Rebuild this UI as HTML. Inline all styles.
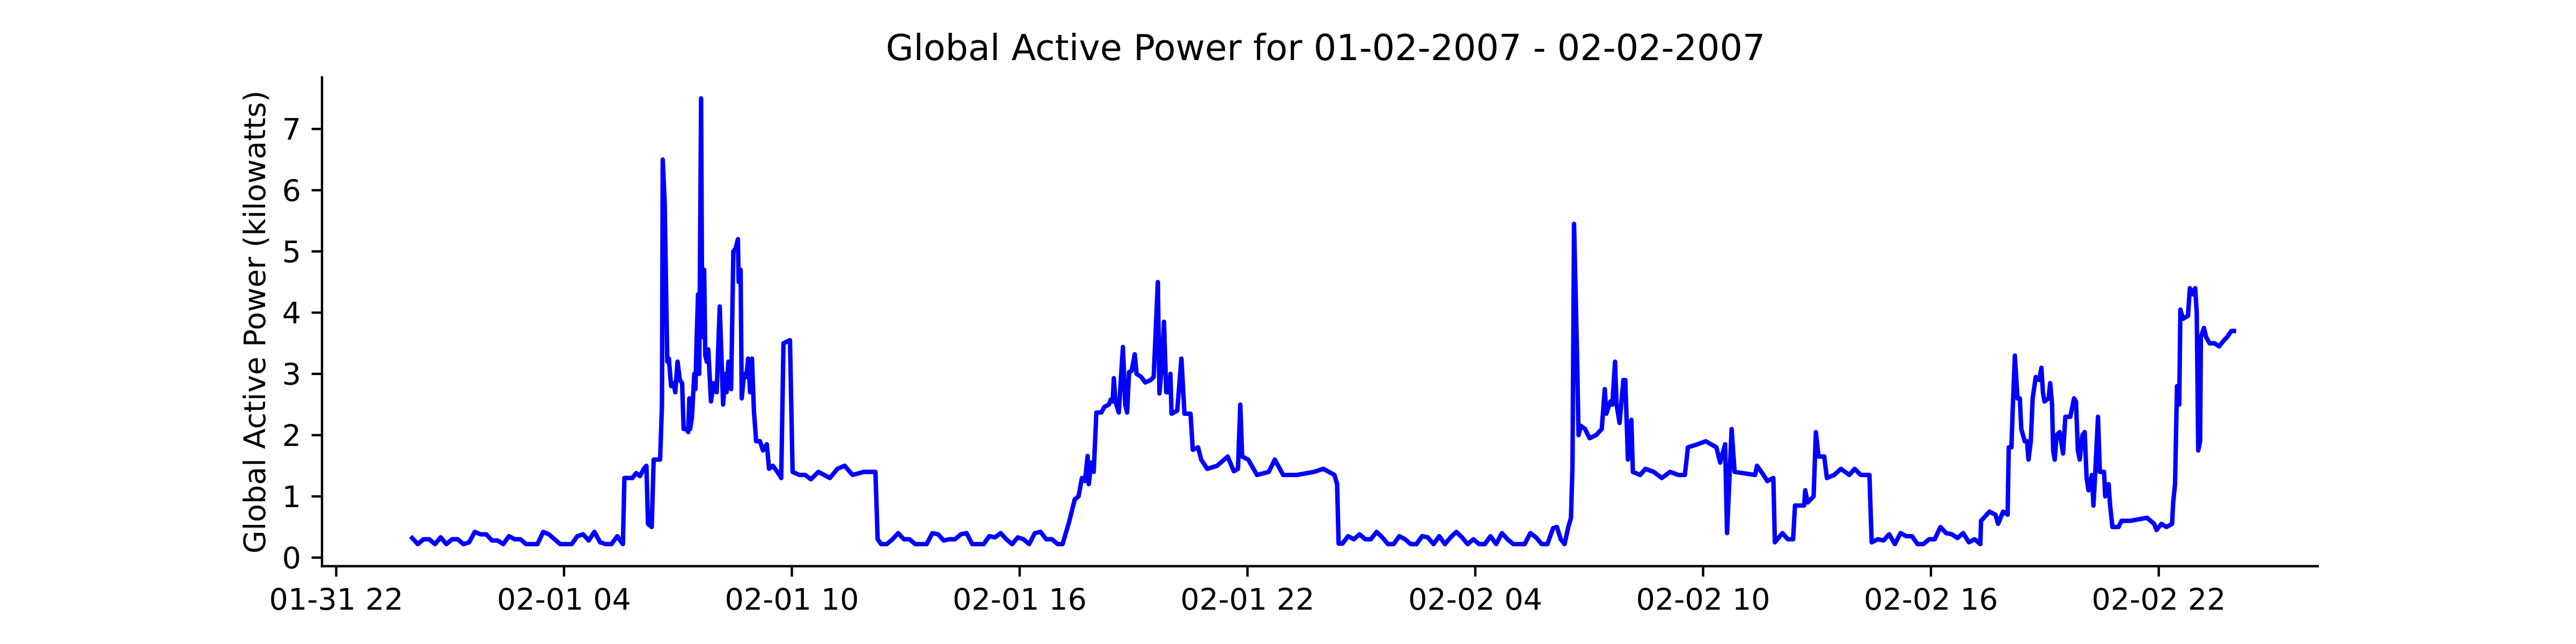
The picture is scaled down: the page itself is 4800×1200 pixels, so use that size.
<!DOCTYPE html>
<html><head><meta charset="utf-8"><style>
html,body{margin:0;padding:0;background:#fff;}
svg{display:block;}
text{font-family:"DejaVu Sans","Liberation Sans",sans-serif;fill:#000;}
</style></head>
<body>
<svg id="chart" width="4800" height="1200" viewBox="0 0 4800 1200" xmlns="http://www.w3.org/2000/svg">
<rect width="4800" height="1200" fill="#fff"/>
<text x="2470" y="112" font-size="66.7" text-anchor="middle">Global Active Power for 01-02-2007 - 02-02-2007</text>
<text transform="translate(494,600) rotate(-90)" font-size="55.6" text-anchor="middle">Global Active Power (kilowatts)</text>
<g id="yticks"></g>
<g id="xticks"></g>
<path id="series" fill="none" stroke="#0000ff" stroke-width="8.3" stroke-linejoin="round" stroke-linecap="square"/>
<line x1="600" y1="142" x2="600" y2="1057.2" stroke="#000" stroke-width="4.4"/>
<line x1="597.8" y1="1055" x2="4321" y2="1055" stroke="#000" stroke-width="4.4"/>
</svg>
<script>
// hours since 02-01-2007 00:00
const times = [0,0.15,0.3,0.45,0.6,0.75,0.9,1.05,1.2,1.35,1.5,1.65,1.8,1.95,2.1,2.25,2.4,2.55,2.7,2.85,3.0,3.15,3.3,3.45,3.6,3.75,3.9,4.05,4.2,4.35,4.5,4.65,4.8,4.95,5.1,5.25,5.4,5.55,
5.59,5.8,5.9,6.0,6.1,6.17,6.21,6.31,6.36,6.53,6.58,6.60,6.65,6.72,6.76,6.82,6.88,6.93,6.99,7.05,7.11,7.15,7.22,7.27,7.3,7.32,7.37,7.43,7.46,7.49,7.53,7.56,7.61,7.64,7.69,7.72,7.76,7.8,7.87,7.94,8.02,8.1,8.19,8.25,8.28,8.33,8.4,8.46,8.52,8.58,8.6,8.65,8.68,8.74,8.8,8.85,8.9,8.95,9.0,9.06,9.16,9.24,9.34,9.40,9.5,9.62,9.72,9.78,9.95,10.02,10.2,10.35,10.5,10.7,11.0,11.2,11.39,11.6,11.9,12.2,12.26,
12.35,12.5,12.65,12.8,12.95,13.1,13.25,13.4,13.55,13.7,13.85,14.0,14.15,14.3,14.45,14.6,14.75,14.9,15.05,15.2,15.35,15.5,15.65,15.8,15.95,16.1,16.25,16.4,16.55,16.7,16.85,17.0,17.13,
17.31,17.45,17.55,17.64,17.72,17.79,17.82,17.88,17.95,18.02,18.15,18.23,18.35,18.40,18.45,18.48,18.52,18.61,18.72,18.78,18.83,18.88,18.95,19.03,19.08,19.2,19.31,19.45,19.53,19.64,19.68,19.74,19.80,19.86,19.94,19.97,20.0,20.15,20.26,20.34,20.5,20.56,20.7,20.78,20.94,21.2,21.48,21.64,21.75,21.81,21.86,22.02,22.25,22.56,22.72,22.94,23.3,23.75,24.0,24.29,24.36,24.40,
24.5,24.65,24.8,24.95,25.1,25.25,25.4,25.55,25.7,25.85,26.0,26.15,26.3,26.45,26.6,26.75,26.9,27.05,27.2,27.35,27.5,27.65,27.8,27.95,28.1,28.25,28.4,28.55,28.7,28.85,29.0,29.15,29.3,29.45,29.6,29.75,29.9,30.05,30.15,30.25,30.35,30.45,30.52,30.56,
30.6,30.68,30.72,30.78,30.89,31.01,31.18,31.33,31.41,31.45,31.56,31.61,31.68,31.72,31.8,31.9,31.95,32.02,32.11,32.15,32.34,32.48,32.7,32.91,33.13,33.35,33.52,33.6,33.85,34.07,34.35,34.45,34.58,34.63,34.75,34.83,35.37,35.42,35.59,35.69,35.85,35.89,36.09,36.23,36.37,36.42,36.66,36.69,36.75,36.91,36.97,37.04,37.19,37.26,37.45,37.63,37.85,37.99,38.15,38.38,38.44,
38.6,38.75,38.9,39.05,39.2,39.35,39.5,39.65,39.8,39.95,40.1,40.25,40.4,40.55,40.7,40.85,41.0,41.15,41.3,
41.32,41.54,41.7,41.77,41.9,42.02,42.05,42.12,42.15,42.21,42.28,42.34,42.38,42.47,42.53,42.57,42.63,42.68,42.76,42.85,42.91,42.95,42.99,43.1,43.14,43.19,43.22,43.26,43.31,43.39,43.48,43.54,43.67,43.77,43.82,43.87,43.92,43.99,44.05,44.1,44.15,44.24,44.28,44.33,44.4,44.45,44.56,44.59,44.68,44.72,44.78,44.94,45.02,45.25,45.69,45.88,45.94,46.07,46.2,46.35,46.38,46.43,46.48,46.54,46.57,46.64,46.77,46.82,46.9,46.96,47.0,47.04,47.09,47.11,47.19,47.25,47.34,47.47,47.59,47.72,47.8,47.91,47.98];
const values = [0.32,0.22,0.3,0.3,0.22,0.33,0.22,0.3,0.3,0.22,0.25,0.42,0.38,0.38,0.28,0.28,0.22,0.35,0.3,0.3,0.22,0.22,0.22,0.42,0.38,0.3,0.22,0.22,0.22,0.35,0.38,0.28,0.42,0.25,0.22,0.22,0.35,0.22,
1.3,1.3,1.38,1.33,1.45,1.5,0.55,0.5,1.6,1.6,2.5,6.5,5.8,3.2,3.25,2.8,2.85,2.7,3.2,2.9,2.85,2.1,2.1,2.05,2.6,2.1,2.3,3.0,2.75,3.5,4.3,3.0,7.5,3.6,4.7,3.3,3.2,3.4,2.55,2.85,2.7,4.1,2.5,3.0,2.7,3.2,2.75,5.0,5.05,5.2,4.5,4.7,2.6,3.0,2.95,3.25,2.7,3.25,2.4,1.9,1.9,1.75,1.85,1.45,1.5,1.4,1.3,3.5,3.55,1.4,1.35,1.35,1.28,1.4,1.3,1.45,1.5,1.35,1.4,1.4,0.3,
0.22,0.22,0.3,0.4,0.3,0.3,0.22,0.22,0.22,0.4,0.38,0.28,0.3,0.3,0.38,0.4,0.22,0.22,0.22,0.35,0.33,0.4,0.3,0.22,0.33,0.3,0.22,0.4,0.42,0.3,0.3,0.22,0.22,
0.6,0.95,1.0,1.3,1.25,1.66,1.2,1.55,1.4,2.37,2.37,2.46,2.5,2.58,2.55,2.93,2.55,2.37,3.44,2.5,2.37,3.03,3.05,3.32,3.0,2.95,2.86,2.9,2.95,4.5,2.68,3.1,3.85,2.7,2.7,3.0,2.35,2.4,3.25,2.35,2.35,1.76,1.8,1.6,1.45,1.5,1.65,1.41,1.45,2.5,1.65,1.6,1.35,1.4,1.6,1.35,1.35,1.4,1.45,1.35,1.2,0.23,
0.23,0.35,0.3,0.38,0.3,0.3,0.42,0.33,0.22,0.22,0.35,0.3,0.22,0.22,0.35,0.33,0.22,0.35,0.22,0.33,0.42,0.33,0.22,0.3,0.22,0.22,0.35,0.22,0.4,0.3,0.22,0.22,0.22,0.4,0.33,0.22,0.22,0.48,0.5,0.3,0.22,0.5,0.65,1.5,
5.45,3.3,2.0,2.15,2.1,1.95,2.0,2.1,2.75,2.35,2.55,2.5,3.2,2.5,2.2,2.9,2.9,1.6,2.25,1.4,1.35,1.45,1.4,1.3,1.4,1.35,1.35,1.8,1.85,1.9,1.8,1.55,1.85,0.4,2.1,1.4,1.35,1.5,1.35,1.25,1.3,0.25,0.4,0.3,0.3,0.85,0.85,1.1,0.9,1.0,2.05,1.65,1.65,1.3,1.35,1.45,1.35,1.45,1.35,1.35,0.25,
0.3,0.28,0.38,0.22,0.4,0.35,0.35,0.22,0.22,0.3,0.3,0.5,0.4,0.38,0.32,0.4,0.25,0.3,0.22,
0.6,0.75,0.7,0.55,0.75,0.7,1.8,1.8,2.35,3.3,2.6,2.6,2.1,1.9,1.9,1.6,1.9,2.6,2.95,2.9,3.1,2.7,2.55,2.6,2.85,2.5,1.75,1.6,2.0,2.05,1.7,2.3,2.3,2.6,2.55,1.75,1.6,2.0,2.05,1.3,1.1,1.35,0.85,1.4,2.3,1.4,1.4,1.0,1.2,0.85,0.5,0.5,0.6,0.6,0.65,0.55,0.45,0.55,0.5,0.55,0.9,1.2,2.8,2.5,4.05,3.9,3.95,4.4,4.3,4.4,4.0,1.75,1.9,3.6,3.75,3.6,3.5,3.5,3.45,3.55,3.6,3.7,3.7];
const yTicks = [0,1,2,3,4,5,6,7];
const xTickHours = [-2,4,10,16,22,28,34,40,46];
const xTickLabels = ["01-31 22","02-01 04","02-01 10","02-01 16","02-01 22","02-02 04","02-02 10","02-02 16","02-02 22"];

const NS = "http://www.w3.org/2000/svg";
function xScale(h){ return 626.5 + (h + 2) * 70.75; }
function yScale(v){ return 1039 - v * 114.1; }

const yg = document.getElementById('yticks');
yTicks.forEach(function(t){
  const y = yScale(t);
  const ln = document.createElementNS(NS,'line');
  ln.setAttribute('x1',580.6); ln.setAttribute('x2',600);
  ln.setAttribute('y1',y); ln.setAttribute('y2',y);
  ln.setAttribute('stroke','#000'); ln.setAttribute('stroke-width','4.4');
  
  
  yg.appendChild(ln);
  const tx = document.createElementNS(NS,'text');
  tx.setAttribute('x',561); tx.setAttribute('y',y+20);
  tx.setAttribute('font-size','55.6'); tx.setAttribute('text-anchor','end');
  tx.textContent = String(t);
  
  
  yg.appendChild(tx);
});

const xg = document.getElementById('xticks');
xTickHours.forEach(function(h,i){
  const x = xScale(h);
  const ln = document.createElementNS(NS,'line');
  ln.setAttribute('x1',x); ln.setAttribute('x2',x);
  ln.setAttribute('y1',1055); ln.setAttribute('y2',1074.4);
  ln.setAttribute('stroke','#000'); ln.setAttribute('stroke-width','4.4');
  
  
  xg.appendChild(ln);
  const tx = document.createElementNS(NS,'text');
  tx.setAttribute('x',x); tx.setAttribute('y',1136);
  tx.setAttribute('font-size','55.6'); tx.setAttribute('text-anchor','middle');
  tx.textContent = xTickLabels[i];
  
  
  xg.appendChild(tx);
});

let d = '';
for (let i = 0; i < times.length; i++) {
  d += (i ? 'L' : 'M') + xScale(times[i]).toFixed(1) + ',' + yScale(values[i]).toFixed(1);
}
document.getElementById('series').setAttribute('d', d);
</script>
</body></html>
